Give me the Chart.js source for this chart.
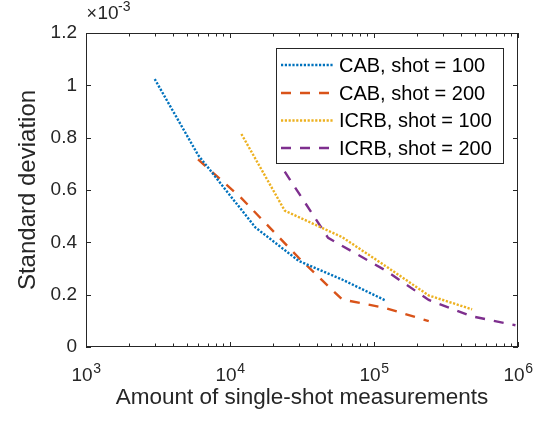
<!DOCTYPE html>
<html>
<head>
<meta charset="utf-8">
<script src="https://cdn.jsdelivr.net/npm/chart.js@4"></script>
<style>
  html, body { margin: 0; padding: 0; background: #fff; }
  #chart { display: block; }
</style>
</head>
<body>
<canvas id="chart" width="542" height="421"></canvas>
<script>
// -----------------------------------------------------------------
// DATA — std. deviation in units of 1e-3, x = number of single shots
// -----------------------------------------------------------------
const shotsCab100  = [3000, 6000, 15000, 30000, 60000, 120000];
const stdCab100    = [1.024, 0.734, 0.457, 0.329, 0.258, 0.178];

const shotsCab200  = [6000, 12000, 30000, 60000, 120000, 240000];
const stdCab200    = [0.717, 0.569, 0.341, 0.182, 0.149, 0.099];

const shotsIcrb100 = [12000, 24000, 60000, 120000, 240000, 480000];
const stdIcrb100   = [0.814, 0.521, 0.420, 0.310, 0.197, 0.144];

const shotsIcrb200 = [24000, 48000, 120000, 240000, 480000, 960000];
const stdIcrb200   = [0.670, 0.417, 0.293, 0.180, 0.117, 0.083];

const seriesLabels = ["CAB, shot = 100", "CAB, shot = 200", "ICRB, shot = 100", "ICRB, shot = 200"];
const xTickExps    = [3, 4, 5, 6];
const yTickValues  = [0, 0.2, 0.4, 0.6, 0.8, 1.0, 1.2];

const FONT     = "'Liberation Sans', Arial, Helvetica, sans-serif";
const AX_COLOR = "#262626";
const DOTTED   = [2.2, 1.6];
const DASHED   = [10, 9];

const toPoints = (xs, ys) => xs.map((x, i) => ({ x, y: ys[i] }));

const makeSet = (label, xs, ys, color, dash) => ({
  label,
  data:            toPoints(xs, ys),
  borderColor:     color,
  backgroundColor: color,
  borderWidth:     2.4,
  borderDash:      dash,
  borderCapStyle:  "butt",
  pointRadius:     0,
  tension:         0,
  fill:            false,
});

// -----------------------------------------------------------------
// Plugin — MATLAB style box, inward ticks, labels, legend
// -----------------------------------------------------------------
const matlabFrame = {
  id: "matlabFrame",
  afterDraw(chart) {
    const { ctx, chartArea: a } = chart;
    const xs = chart.scales.x, ys = chart.scales.y;
    ctx.save();
    ctx.strokeStyle = AX_COLOR;
    ctx.lineWidth = 1;

    // box
    ctx.strokeRect(a.left + 0.5, a.top + 0.5, a.right - a.left - 1, a.bottom - a.top - 1);

    // x ticks (major + minor), bottom and top
    ctx.beginPath();
    xTickExps.forEach((e) => {
      const base = Math.pow(10, e);
      const steps = e < 6 ? [1, 2, 3, 4, 5, 6, 7, 8, 9] : [1];
      steps.forEach((m) => {
        const px = Math.round(xs.getPixelForValue(m * base)) + 0.5;
        const len = m === 1 ? 5 : 3.5;
        ctx.moveTo(px, a.bottom);      ctx.lineTo(px, a.bottom - len);
        ctx.moveTo(px, a.top);         ctx.lineTo(px, a.top + len);
      });
    });
    // y ticks, left and right
    yTickValues.forEach((v) => {
      const py = Math.round(ys.getPixelForValue(v)) + 0.5;
      ctx.moveTo(a.left, py);  ctx.lineTo(a.left + 5, py);
      ctx.moveTo(a.right, py); ctx.lineTo(a.right - 5, py);
    });
    ctx.stroke();

    // x tick labels 10^k
    ctx.fillStyle = AX_COLOR;
    ctx.textBaseline = "alphabetic";
    ctx.textAlign = "left";
    xTickExps.forEach((e) => {
      const px = xs.getPixelForValue(Math.pow(10, e));
      ctx.font = `19px ${FONT}`;
      const wBase = ctx.measureText("10").width;
      ctx.font = `14px ${FONT}`;
      const wExp = ctx.measureText(String(e)).width;
      const x0 = px - (wBase + wExp) / 2;
      ctx.font = `19px ${FONT}`;
      ctx.fillText("10", x0, 381);
      ctx.font = `14px ${FONT}`;
      ctx.fillText(String(e), x0 + wBase + 0.5, 373);
    });

    // exponent label ×10^-3
    ctx.font = `18px ${FONT}`;
    ctx.fillText("\u00d7", 86.5, 18.5);
    ctx.font = `19px ${FONT}`;
    ctx.fillText("10", 97.5, 18.5);
    ctx.font = `14px ${FONT}`;
    ctx.fillText("-3", 118, 10.5);

    // axis titles
    ctx.fillStyle = "#262626";
    ctx.font = `22.5px ${FONT}`;
    ctx.textAlign = "center";
    ctx.fillText("Amount of single-shot measurements", (a.left + a.right) / 2, 403.5);

    ctx.save();
    ctx.translate(35, (a.top + a.bottom) / 2);
    ctx.rotate(-Math.PI / 2);
    ctx.font = `24px ${FONT}`;
    ctx.fillText("Standard deviation", 0, 0);
    ctx.restore();

    // legend
    const lg = { x: 276.5, y: 48.5, w: 227, h: 115 };
    ctx.fillStyle = "#fff";
    ctx.fillRect(lg.x, lg.y, lg.w, lg.h);
    ctx.strokeStyle = AX_COLOR;
    ctx.lineWidth = 1;
    ctx.strokeRect(lg.x, lg.y, lg.w, lg.h);

    const rowY = [65, 93, 120.5, 148];
    chart.data.datasets.forEach((ds, i) => {
      const y = rowY[i];
      ctx.save();
      ctx.strokeStyle = ds.borderColor;
      ctx.lineWidth = ds.borderWidth;
      ctx.setLineDash(ds.borderDash);
      ctx.beginPath();
      ctx.moveTo(281, y);
      ctx.lineTo(333, y);
      ctx.stroke();
      ctx.restore();

      ctx.fillStyle = "#000";
      ctx.font = `20px ${FONT}`;
      ctx.textAlign = "left";
      ctx.textBaseline = "middle";
      ctx.fillText(ds.label, 339, y + 1);
    });

    ctx.restore();
  },
};

// -----------------------------------------------------------------
// CHART
// -----------------------------------------------------------------
new Chart(document.getElementById("chart").getContext("2d"), {
  type: "line",
  data: {
    datasets: [
      makeSet(seriesLabels[0], shotsCab100,  stdCab100,  "#0072BD", DOTTED),
      makeSet(seriesLabels[1], shotsCab200,  stdCab200,  "#D95319", DASHED),
      makeSet(seriesLabels[2], shotsIcrb100, stdIcrb100, "#EDB120", DOTTED),
      makeSet(seriesLabels[3], shotsIcrb200, stdIcrb200, "#7E2F8E", DASHED),
    ],
  },
  options: {
    responsive: false,
    animation:  false,
    layout: { padding: { top: 33, right: 24, left: 0, bottom: 0 } },
    plugins: {
      legend:  { display: false },
      tooltip: { enabled: false },
    },
    scales: {
      x: {
        type: "logarithmic",
        min:  1000,
        max:  1000000,
        grid:   { display: false, drawTicks: false },
        border: { display: false },
        ticks:  { display: false },
        afterFit: (s) => { s.height = 74; },
      },
      y: {
        type: "linear",
        min:  0,
        max:  1.2,
        grid:   { display: false, drawTicks: false },
        border: { display: false },
        ticks: {
          stepSize: 0.2,
          padding:  9,
          color:    AX_COLOR,
          font:     { family: FONT, size: 19 },
          callback: (v) => String(Math.round(v * 10) / 10),
        },
        afterFit: (s) => { s.width = 86; },
      },
    },
  },
  plugins: [matlabFrame],
});
</script>
</body>
</html>
